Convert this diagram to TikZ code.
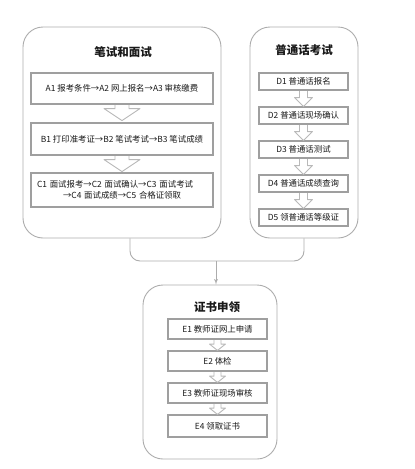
\documentclass[tikz,border=0pt]{standalone}
\usepackage{fontspec}
\setmainfont{Noto Sans CJK SC}
\usetikzlibrary{arrows}
\usetikzlibrary{calc}

\begin{document}
\begin{tikzpicture}[x=1pt,y=-1pt,inner sep=0pt,node distance=34pt,>=latex',
  panel/.style={draw=gray!65,line width=.9pt,rounded corners=20pt},
  box/.style={draw=gray!75,line width=1.1pt,fill=white,font=\fontsize{8.4}{11}\selectfont,text=black!90},
  title/.style={font=\bfseries\fontsize{11.5}{13}\selectfont,text=black!90},
  hollow/.style={draw=gray!55,line width=.9pt,fill=white,line join=round},
  conn/.style={draw=gray!65,line width=.9pt}]
\useasboundingbox (0,0) rectangle (415,469);
\draw node [panel,minimum width=198pt,minimum height=211pt] (written) at (122,132.5) {};
\draw node [panel,minimum width=108pt,minimum height=211pt] (putong) at (304,132.5) {};
\draw node [panel,minimum width=134pt,minimum height=174pt] (cert) at (210,372) {};
\draw node [title] (tw) at (123,52) {笔试和面试};
\draw node [title] (tp) at (304,50) {普通话考试};
\draw node [title] (tc) at (217,307) {证书申领};
\draw node [box,minimum width=182pt,minimum height=31pt] (A) at (122,88.5) {A1 报考条件→A2 网上报名→A3 审核缴费};
\draw node [box,minimum width=182pt,minimum height=32pt] [below of=A,node distance=50.5pt] (B) {B1 打印准考证→B2 笔试考试→B3 笔试成绩};
\draw node [box,minimum height=34pt,text width=170pt,inner xsep=6pt,align=left] [below of=B,node distance=51pt] (C) {C1 面试报考→C2 面试确认→C3 面试考试\\\hspace*{26pt}→C4 面试成绩→C5 合格证领取};
\draw node [box,minimum width=89pt,minimum height=17pt] (D1) at (303.5,81.5) {D1 普通话报名};
\draw node [box,minimum width=89pt,minimum height=17pt] [below of=D1] (D2) {D2 普通话现场确认};
\draw node [box,minimum width=89pt,minimum height=17pt] [below of=D2] (D3) {D3 普通话测试};
\draw node [box,minimum width=89pt,minimum height=17pt] [below of=D3] (D4) {D4 普通话成绩查询};
\draw node [box,minimum width=89pt,minimum height=17pt] [below of=D4] (D5) {D5 领普通话等级证};
\draw node [box,minimum width=99pt,minimum height=20pt] (E1) at (217.5,329) {E1 教师证网上申请};
\draw node [box,minimum width=99pt,minimum height=20pt] [below of=E1,node distance=32pt] (E2) {E2 体检};
\draw node [box,minimum width=99pt,minimum height=20pt] [below of=E2,node distance=32pt] (E3) {E3 教师证现场审核};
\draw node [box,minimum width=99pt,minimum height=22pt] [below of=E3,node distance=33pt] (E4) {E4 领取证书};
\foreach \u in {A,B}
  \draw [hollow] ($(\u.south)+(-7,.6)$) -- ++(0,3.4) -- ++(-11,0) -- ($(\u.south)+(0,16)$) -- ++(18,-12) -- ++(-11,0) -- ++(0,-3.4);
\foreach \u/\v in {D1/D2,D2/D3,D3/D4,D4/D5}
  \draw [hollow] ($(\u.south)+(-4,.6)$) -- ++(0,6.4) -- ++(-5,0) -- (\v.north) -- ($(\u.south)+(9,7)$) -- ++(-5,0) -- ++(0,-6.4);
\foreach \u/\v in {E1/E2,E2/E3,E3/E4}
  \draw [hollow] ($(\u.south)+(-3.5,.6)$) -- ++(0,3.9) -- ++(-4.5,0) -- (\v.north) -- ($(\u.south)+(8,4.5)$) -- ++(-4.5,0) -- ++(0,-3.9);
\coordinate (join) at (216,261);
\draw [conn,rounded corners=10pt] ([xshift=8pt]written.south) |- (join) -| (putong.south);
\draw [conn,->] (join) -- (join |- cert.north);
\end{tikzpicture}
\end{document}
